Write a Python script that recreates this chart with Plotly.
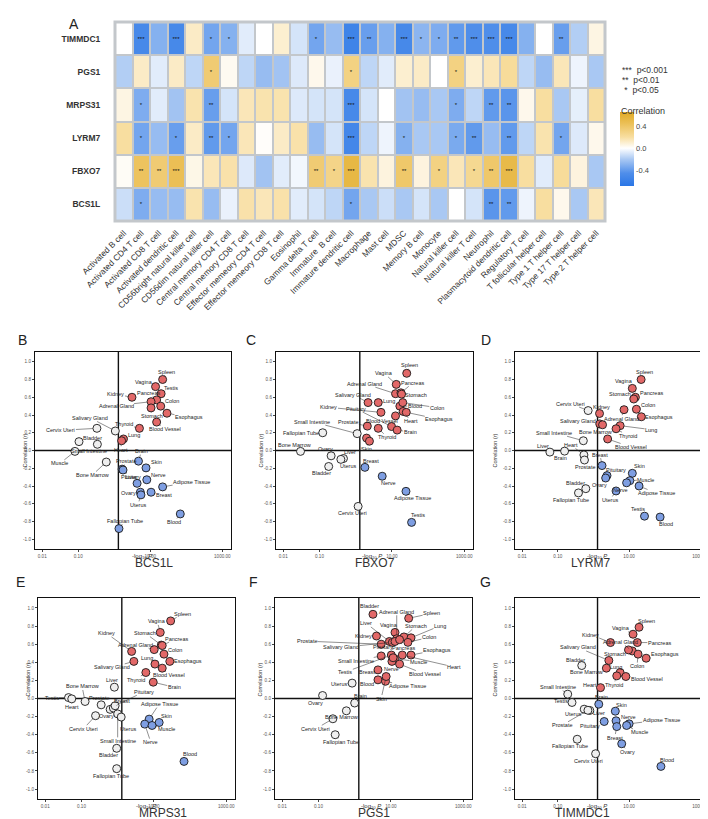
import math

import plotly.graph_objects as go

W, H = 708, 819
FONT = "Arial, Liberation Sans, sans-serif"

# ---------------- heatmap data (panel A) ----------------
CELL_TYPES = [
    "Activated B cell", "Activated CD4 T cell", "Activated CD8 T cell", "Activated dendritic cell",
    "CD56bright natural killer cell", "CD56dim natural killer cell", "Central memory CD4 T cell",
    "Central memory CD8 T cell", "Effector memeory CD4 T cell", "Effector memeory CD8 T cell",
    "Eosinophil", "Gamma delta T cell", "Immature  B cell", "Immature dendritic cell", "Macrophage",
    "Mast cell", "MDSC", "Memory B cell", "Monocyte", "Natural killer cell", "Natural killer T cell",
    "Neutrophil", "Plasmacytoid dendritic cell", "Regulatory T cell", "T follicular helper cell",
    "Type 1 T helper cell", "Type 17 T helper cell", "Type 2 T helper cell",
]
GENES = ["TIMMDC1", "PGS1", "MRPS31", "LYRM7", "FBXO7", "BCS1L"]

TIMMDC1_CORR = [0.00, -0.50, -0.30, -0.50, 0.12, -0.35, -0.30, -0.07, 0.00, 0.10, -0.10, -0.35, -0.25, -0.55,
                -0.38, -0.30, -0.50, -0.28, -0.32, -0.40, -0.45, -0.45, -0.50, -0.30, 0.00, -0.38, -0.18, 0.06]
PGS1_CORR = [-0.18, 0.12, -0.07, 0.12, -0.15, 0.35, 0.03, -0.15, -0.25, -0.22, -0.08, 0.04, -0.05, 0.30,
             -0.15, -0.07, 0.10, 0.12, 0.00, 0.30, 0.10, 0.15, 0.22, -0.15, -0.25, 0.15, -0.04, -0.20]
MRPS31_CORR = [0.06, -0.32, -0.07, -0.22, 0.17, -0.38, -0.10, 0.15, 0.17, 0.17, -0.08, -0.10, -0.10, -0.50,
               -0.10, 0.00, -0.22, -0.25, -0.20, -0.32, -0.15, -0.40, -0.42, 0.04, 0.20, -0.20, -0.06, 0.20]
LYRM7_CORR = [0.20, -0.35, -0.25, -0.38, 0.12, -0.40, -0.35, 0.15, 0.01, 0.12, 0.18, -0.25, -0.10, -0.52,
              -0.15, -0.04, -0.30, -0.20, -0.20, -0.33, -0.40, -0.25, -0.40, -0.15, 0.17, -0.35, -0.08, 0.04]
FBXO7_CORR = [0.02, 0.42, 0.35, 0.45, 0.05, 0.15, 0.18, -0.08, -0.22, -0.07, -0.03, 0.35, 0.28, 0.52,
              0.17, 0.07, 0.38, 0.07, 0.30, 0.15, 0.25, 0.38, 0.50, 0.20, -0.07, 0.22, 0.07, -0.20]
BCS1L_CORR = [-0.12, -0.32, -0.25, -0.25, 0.17, -0.25, -0.05, 0.18, 0.15, 0.18, -0.07, -0.10, -0.15, -0.35,
              -0.20, -0.12, -0.20, -0.10, -0.20, 0.00, -0.10, -0.42, -0.40, -0.04, 0.20, 0.04, -0.20, 0.15]

TIMMDC1_SIG = ["", "***", "", "***", "", "*", "*", "", "", "", "", "*", "", "***",
               "**", "", "***", "*", "*", "**", "***", "***", "***", "", "", "**", "", ""]
PGS1_SIG = ["", "", "", "", "", "*", "", "", "", "", "", "", "", "*",
            "", "", "", "", "", "*", "", "", "", "", "", "", "", ""]
MRPS31_SIG = ["", "*", "", "", "", "**", "", "", "", "", "", "", "", "***",
              "", "", "", "", "", "*", "", "**", "**", "", "", "", "", ""]
LYRM7_SIG = ["", "*", "", "*", "", "**", "*", "", "", "", "", "", "", "***",
             "", "", "*", "", "", "*", "**", "", "**", "", "", "*", "", ""]
FBXO7_SIG = ["", "**", "**", "***", "", "", "", "", "", "", "", "**", "*", "***",
             "", "", "**", "", "*", "", "*", "**", "***", "", "", "", "", ""]
BCS1L_SIG = ["", "*", "", "", "", "", "", "", "", "", "", "", "", "*",
             "", "", "", "", "", "", "", "**", "**", "", "", "", "", ""]

# ---------------- tissue scatter data (panels B-G) ----------------
BCS1L_TISSUE = ["Spleen", "Vagina", "Testis", "Kidney", "Pancreas", "Adrenal Gland", "Colon", "Stomach",
                "Esophagus", "Blood Vessel", "Thyroid", "Lung", "Heart", "Salivary Gland", "Cervix Uteri",
                "Bladder", "Small Intestine", "Muscle", "Bone Marrow", "Prostate", "Pituitary", "Brain",
                "Skin", "Nerve", "Liver", "Adipose Tissue", "Ovary", "Breast", "Uterus", "Blood",
                "Fallopian Tube"]
BCS1L_LOGP = [22, 14, 20, 3.1, 15, 10.5, 19.5, 10.5, 29, 15, 5.0, 1.8, 1.6, 1.07, 0.33, 0.105, 0.34, 0.081,
              0.60, 1.65, 1.75, 4.7, 7.6, 8.0, 4.3, 22, 5.3, 10.5, 5.5, 68, 1.35]
BCS1L_R = [0.80, 0.72, 0.64, 0.60, 0.57, 0.55, 0.50, 0.48, 0.42, 0.32, 0.25, 0.13, 0.11, 0.22, 0.25, 0.10,
           0.07, -0.01, -0.13, -0.21, -0.22, -0.12, -0.196, -0.33, -0.37, -0.41, -0.47, -0.47, -0.50,
           -0.715, -0.88]

FBXO7_TISSUE = ["Spleen", "Vagina", "Adrenal Gland", "Pancreas", "Stomach", "Salivary Gland", "Lung",
                "Kidney", "Pituitary", "Blood", "Colon", "Heart", "Esophagus", "Blood Vessel", "Prostate",
                "Thyroid", "Brain", "Muscle", "Skin", "Small Intestine", "Fallopian Tube", "Bone Marrow",
                "Ovary", "Liver", "Uterus", "Bladder", "Cervix Uteri", "Breast", "Nerve", "Adipose Tissue",
                "Testis"]
FBXO7_LOGP = [25.7, 13.2, 12.6, 17.8, 18.5, 2.2, 4.2, 5.0, 9.8, 16.6, 20, 20.5, 25, 12.6, 2.1, 4.2, 14,
              2.0, 2.4, 1.1, 0.123, 0.03, 0.21, 0.46, 0.39, 0.18, 1.17, 1.8, 5.4, 24.5, 35]
FBXO7_R = [0.87, 0.745, 0.64, 0.65, 0.635, 0.54, 0.54, 0.43, 0.27, 0.50, 0.54, 0.44, 0.43, 0.39, 0.275,
           0.25, 0.23, 0.14, 0.105, 0.19, 0.20, -0.01, -0.06, -0.09, -0.10, -0.18, -0.63, -0.19, -0.29,
           -0.46, -0.81]

LYRM7_TISSUE = ["Spleen", "Vagina", "Pancreas", "Stomach", "Colon", "Kidney", "Adrenal Gland", "Esophagus",
                "Salivary Gland", "Bone Marrow", "Lung", "Thyroid", "Blood Vessel", "Cervix Uteri",
                "Small Intestine", "Liver", "Brain", "Heart", "Prostate", "Bladder", "Fallopian Tube",
                "Breast", "Pituitary", "Ovary", "Skin", "Muscle", "Nerve", "Adipose Tissue", "Uterus",
                "Testis", "Blood"]
LYRM7_LOGP = [21.7, 12.3, 15, 13.5, 16, 1.48, 7.2, 22, 1.5, 1.8, 5.6, 4.3, 2.5, 0.71, 0.52, 0.06, 0.155,
              0.54, 0.56, 0.61, 0.38, 1.74, 2.4, 2.2, 12.3, 10.5, 8.5, 19, 4.3, 27, 74]
LYRM7_R = [0.80, 0.70, 0.60, 0.58, 0.465, 0.417, 0.46, 0.38, 0.30, 0.29, 0.28, 0.245, 0.13, 0.45, 0.11,
           -0.018, -0.007, -0.05, -0.107, -0.43, -0.478, -0.17, -0.283, -0.31, -0.257, -0.34, -0.364,
           -0.40, -0.456, -0.74, -0.75]

MRPS31_TISSUE = ["Spleen", "Vagina", "Kidney", "Stomach", "Pancreas", "Adrenal Gland", "Colon", "Lung",
                 "Esophagus", "Salivary Gland", "Thyroid", "Blood Vessel", "Brain", "Liver", "Bone Marrow",
                 "Testis", "Heart", "Prostate", "Cervix Uteri", "Ovary", "Breast", "Pituitary",
                 "Small Intestine", "Uterus", "Bladder", "Fallopian Tube", "Adipose Tissue", "Skin",
                 "Nerve", "Muscle", "Blood"]
MRPS31_LOGP = [29, 15, 2.43, 16, 17, 10.2, 19, 10.7, 27.5, 2.8, 6.0, 17, 9.6, 0.81, 0.126, 0.044, 0.054,
               0.35, 0.245, 0.62, 0.76, 0.85, 1.0, 1.25, 0.94, 0.94, 7.4, 14, 5.6, 8.9, 68]
MRPS31_R = [0.857, 0.73, 0.52, 0.59, 0.585, 0.54, 0.49, 0.38, 0.41, 0.41, 0.287, 0.335, 0.18, 0.125,
            -0.033, 0.01, -0.004, -0.07, -0.19, -0.12, -0.105, -0.08, -0.17, -0.205, -0.55, -0.775,
            -0.228, -0.265, -0.283, -0.298, -0.695]

PGS1_TISSUE = ["Bladder", "Spleen", "Vagina", "Kidney", "Adrenal Gland", "Stomach", "Lung", "Liver", "Colon",
               "Prostate", "Salivary Gland", "Pituitary", "Pancreas", "Esophagus", "Small Intestine",
               "Heart", "Muscle", "Nerve", "Testis", "Thyroid", "Breast", "Blood Vessel", "Blood",
               "Adipose Tissue", "Skin", "Uterus", "Brain", "Ovary", "Bone Marrow", "Cervix Uteri",
               "Fallopian Tube"]
PGS1_LOGP = [3.2, 31, 13, 4.0, 14.5, 23, 36, 9.1, 29.5, 5.4, 11, 13, 17.4, 36, 5.4, 20.6, 12.6, 10.7, 10.3,
             11.5, 4.4, 17.4, 4.4, 7.1, 7.4, 0.85, 1.0, 0.13, 0.59, 0.25, 0.29]
PGS1_R = [0.93, 0.886, 0.73, 0.69, 0.66, 0.68, 0.67, 0.63, 0.62, 0.60, 0.62, 0.63, 0.65, 0.48, 0.47, 0.48,
          0.44, 0.41, 0.48, 0.45, 0.316, 0.38, 0.206, 0.19, 0.243, 0.17, -0.05, 0.033, -0.136, -0.224,
          -0.40]

TIMMDC1_TISSUE = ["Spleen", "Vagina", "Kidney", "Pancreas", "Adrenal Gland", "Stomach", "Colon", "Esophagus",
                  "Salivary Gland", "Bone Marrow", "Lung", "Thyroid", "Blood Vessel", "Heart", "Bladder",
                  "Small Intestine", "Testis", "Uterus", "Liver", "Prostate", "Fallopian Tube",
                  "Cervix Uteri", "Brain", "Skin", "Pituitary", "Nerve", "Adipose Tissue", "Muscle",
                  "Breast", "Ovary", "Blood"]
TIMMDC1_LOGP = [19, 12.9, 3.0, 17, 12.3, 9.6, 17.8, 30, 2.7, 2.3, 5.6, 4.5, 8.1, 1.58, 0.47, 0.19, 0.25,
                0.55, 0.79, 0.7, 0.35, 1.15, 1.41, 4.1, 2.0, 4.3, 10, 8.5, 4.5, 6.2, 78]
TIMMDC1_R = [0.787, 0.71, 0.618, 0.618, 0.525, 0.537, 0.49, 0.445, 0.42, 0.335, 0.287, 0.25, 0.243, 0.12,
             0.364, 0.048, -0.044, -0.118, -0.132, -0.13, -0.45, -0.61, -0.063, -0.14, -0.254, -0.246,
             -0.28, -0.298, -0.31, -0.50, -0.75]

P_CUTOFF = 0.05
X_TICKS = [0.01, 0.1, 10, 1000]
X_TICK_TEXT = ["0.01", "0.10", "10.00", "1000.00"]
Y_TICKS = [1.0, 0.8, 0.6, 0.4, 0.2, 0.0, -0.2, -0.4, -0.6, -0.8, -1.0]

# ---------------- label placement (pixel offsets of the repelled labels) ----------------
BCS1L_LABEL_POS = [(4, -8), (-12, -5), (10, -6), (-16, -3), (-8, -7), (-35, 4), (11, -5), (1, 8), (22, 4),
                   (8, 7), (-15, -4), (11, -4), (-1, 9), (-25, -13), (-36, 2), (13, -4), (-8, 7), (-15, 12),
                   (-14, 13), (4, -8), (8, 7), (3, -10), (10, -6), (12, -5), (-6, -6), (29, -5), (-12, 1),
                   (13, 3), (-3, 10), (-6, 8), (6, -8)]
FBXO7_LABEL_POS = [(3, -8), (-12, -11), (-31, -10), (12, -10), (14, 1), (-15, -8), (11, -2), (-52, -5),
                   (-36, -18), (15, 0), (34, 5), (8, 10), (33, 7), (-14, 5), (-19, -4), (9, 9), (13, 2), None,
                   (-3, 8), (-45, -12), (-22, 0), (-6, -6), (-6, -7), (7, -6), (7, 7), (-7, 7), (-6, 7),
                   (6, -6), (6, 7), (7, 7), (6, -7)]
LYRM7_LABEL_POS = [(3, -8), (-8, -7), (16, -4), (-14, -5), (12, -4), (2, -7), (-3, 9), (18, 0), (-22, -3),
                   (-7, 7), (31, 4), (12, 7), (23, 8), (-18, -7), (-29, -8), (-7, -6), (-4, 7), (-13, -10),
                   (1, 7), (-10, -6), (-7, 7), (-2, -11), (9, -6), (-6, 7), (7, -7), (16, -1), (-6, 7),
                   (17, 7), (-6, 9), (-7, -7), (6, 7)]
MRPS31_LABEL_POS = [(12, -7), (-3, -11), (-25, -18), (-16, -12), (14, -7), (-19, -5), (11, -4), (-8, -6),
                    (18, 0), (-22, 6), (-10, 7), (7, 7), (21, 5), (-2, -7), (-3, -15), (-17, 0), (0, 8),
                    (-2, -7), (-12, 13), (-4, 7), (9, -7), (29, -14), (0, 27), (7, 12), (-8, 7), (-6, 7),
                    (10, -15), (7, -6), (6, 18), (14, 4), (6, -7)]
PGS1_LABEL_POS = [(-3, -8), (23, -5), (-6, -7), (-13, 0), (0, -27), (12, -11), (29, -12), (-23, -18),
                  (21, -5), (-74, -3), (-51, 5), (-12, 6), (4, 8), (26, -5), (-25, 5), (52, 12), (24, 3),
                  (0, 8), (-46, 17), None, (-11, 2), (25, 10), (-11, 4), (22, 5), (-5, 22), (-13, 1),
                  (6, -7), (-7, 7), (-5, 6), (-17, 10), (6, 7)]
TIMMDC1_LABEL_POS = [(7, -6), (-12, -6), (-20, -8), (22, 0), (-12, -9), (-13, 4), (-1, 12), (19, -4),
                     (-31, -13), (-20, 4), (-4, -6), (-3, 9), (21, 2), (-11, -3), (-6, -6), (-10, -7),
                     (-11, -1), (-11, 5), (9, 3), (-26, 15), (-7, 7), (-7, 7), (3, -7), (6, -6), (-14, 4),
                     (12, -4), (32, -4), (13, 7), (-2, 11), (6, 8), (6, -6)]

# panel boxes in pixels: (left, top, right, bottom)
PANELS = [
    ("BCS1L", "B", BCS1L_TISSUE, BCS1L_LOGP, BCS1L_R, BCS1L_LABEL_POS, (27, 344, 223, 541), (8, 332)),
    ("FBXO7", "C", FBXO7_TISSUE, FBXO7_LOGP, FBXO7_R, FBXO7_LABEL_POS, (268, 344, 465, 541), (243, 332)),
    ("LYRM7", "D", LYRM7_TISSUE, LYRM7_LOGP, LYRM7_R, LYRM7_LABEL_POS, (507, 344, 701, 541), (485, 332)),
    ("MRPS31", "E", MRPS31_TISSUE, MRPS31_LOGP, MRPS31_R, MRPS31_LABEL_POS, (30, 590, 227, 791), (6, 584)),
    ("PGS1", "F", PGS1_TISSUE, PGS1_LOGP, PGS1_R, PGS1_LABEL_POS, (267, 590, 464, 791), (245, 584)),
    ("TIMMDC1", "G", TIMMDC1_TISSUE, TIMMDC1_LOGP, TIMMDC1_R, TIMMDC1_LABEL_POS, (507, 590, 701, 791),
     (485, 584)),
]

RED, BLUE, GREY = "#E26868", "#7E9EE2", "#EFEFEF"
ZMIN, ZMAX = -0.68, 0.65


def px_x(v):
    return v / W


def px_y(v):
    return 1 - v / H


def zpos(z):
    return (z - ZMIN) / (ZMAX - ZMIN)


fig = go.Figure()
annotations = []
shapes = []

# ---------------- panel A: heatmap ----------------
z_rows = [TIMMDC1_CORR, PGS1_CORR, MRPS31_CORR, LYRM7_CORR, FBXO7_CORR, BCS1L_CORR]
sig_rows = [TIMMDC1_SIG, PGS1_SIG, MRPS31_SIG, LYRM7_SIG, FBXO7_SIG, BCS1L_SIG]
colorscale = [
    [0.0, "#2A76E6"],
    [zpos(-0.45), "#4F8EEA"],
    [zpos(-0.2), "#A9C8F3"],
    [zpos(0.0), "#FFFFFF"],
    [zpos(0.2), "#F8DEA0"],
    [zpos(0.45), "#EBBF55"],
    [1.0, "#E0AA25"],
]
fig.add_heatmap(
    x=CELL_TYPES, y=GENES, z=z_rows, text=sig_rows, texttemplate="%{text}",
    textfont=dict(size=6, color="#111", family=FONT),
    colorscale=colorscale, zmin=ZMIN, zmax=ZMAX, xgap=2, ygap=2, hoverinfo="skip",
    colorbar=dict(
        x=px_x(612), xanchor="left", y=px_y(141), yanchor="middle", len=74 / H, thickness=14,
        outlinewidth=0, tickvals=[-0.4, 0.0, 0.4], ticktext=["-0.4", "0.0", "0.4"], ticks="",
        tickfont=dict(size=7.5, color="#444", family=FONT), xpad=0, ypad=0,
    ),
    xaxis="x", yaxis="y",
)
layout_axes = dict(
    xaxis=dict(domain=[px_x(107), px_x(597)], tickangle=-45, tickfont=dict(size=8.5, color="#333", family=FONT),
               ticks="outside", ticklen=3, tickcolor="rgba(0,0,0,0)", showgrid=False, zeroline=False,
               anchor="y", automargin=False),
    yaxis=dict(domain=[px_y(213), px_y(14)], autorange="reversed",
               tickfont=dict(size=8.5, color="#333", family=FONT, weight="bold"),
               ticks="outside", ticklen=12, tickcolor="rgba(0,0,0,0)", showgrid=False, zeroline=False,
               anchor="x", automargin=False),
)
shapes.append(dict(type="rect", xref="x domain", yref="y domain", x0=0, x1=1, y0=0, y1=1,
                   fillcolor="#C3C7CB", line=dict(width=0), layer="below"))
shapes.append(dict(type="rect", xref="x domain", yref="y domain", x0=0, x1=1, y0=0, y1=1,
                   fillcolor="rgba(0,0,0,0)", line=dict(width=3, color="#C3C7CB"), layer="above"))

annotations.append(dict(text="A", x=px_x(59), y=px_y(6), xref="paper", yref="paper", showarrow=False,
                        font=dict(size=14, color="#222", family=FONT)))
legend_lines = [("***  p<0.001", 55), ("**  p<0.01", 65), (" *  p<0.05", 75)]
for txt, yy in legend_lines:
    annotations.append(dict(text=txt, x=px_x(612), y=px_y(yy), xref="paper", yref="paper", xanchor="left",
                            showarrow=False, font=dict(size=8.5, color="#333", family=FONT)))
annotations.append(dict(text="Correlation", x=px_x(611), y=px_y(96), xref="paper", yref="paper",
                        xanchor="left", showarrow=False, font=dict(size=9, color="#333", family=FONT)))

# ---------------- panels B-G: tissue scatter ----------------
cut = -math.log10(P_CUTOFF)
for i, (gene, letter, tissues, logp, corr, label_pos, box, letter_xy) in enumerate(PANELS, start=2):
    xa, ya = f"x{i}", f"y{i}"
    left, top, right, bottom = box
    colors = []
    for xv, rv in zip(logp, corr):
        if xv <= cut:
            colors.append(GREY)
        else:
            colors.append(RED if rv > 0 else BLUE)
    fig.add_scatter(
        x=logp, y=corr, mode="markers", xaxis=xa, yaxis=ya, hovertext=tissues, hoverinfo="text",
        marker=dict(size=8, color=colors, line=dict(width=0.9, color="#1A1A1A")),
    )
    layout_axes[f"xaxis{i}"] = dict(
        domain=[px_x(left), px_x(right)], anchor=ya, type="log", range=[-2.2, 3.24],
        tickvals=X_TICKS, ticktext=X_TICK_TEXT, tickfont=dict(size=4.6, color="#555", family=FONT),
        ticks="outside", ticklen=2, tickwidth=0.6, showline=True, mirror=True, linecolor="#111",
        linewidth=1.2, showgrid=False, zeroline=False, automargin=False,
    )
    layout_axes[f"yaxis{i}"] = dict(
        domain=[px_y(bottom), px_y(top)], anchor=xa, range=[-1.11, 1.11],
        tickvals=Y_TICKS, ticktext=[f"{v:.1f}" for v in Y_TICKS],
        tickfont=dict(size=4.6, color="#555", family=FONT), ticks="outside", ticklen=2, tickwidth=0.6,
        showline=True, mirror=True, linecolor="#111", linewidth=1.2, showgrid=False, zeroline=False,
        automargin=False,
    )
    shapes.append(dict(type="line", xref=f"{xa} domain", yref=ya, x0=0, x1=1, y0=0, y1=0,
                       line=dict(color="#111", width=1.4), layer="below"))
    shapes.append(dict(type="line", xref=xa, yref=f"{ya} domain", x0=cut, x1=cut,
                       y0=0, y1=1, line=dict(color="#111", width=1.4), layer="below"))
    for name, xv, rv, pos in zip(tissues, logp, corr, label_pos):
        if pos is None:
            continue
        annotations.append(dict(
            text=name, x=math.log10(xv), y=rv, xref=xa, yref=ya, ax=pos[0], ay=pos[1],
            showarrow=True, arrowhead=0, arrowwidth=0.5, arrowcolor="#222", standoff=4,
            font=dict(size=5.5, color="#222", family=FONT), borderpad=0,
        ))
    # axis titles
    annotations.append(dict(text="-log<sub>10</sub> <i>P</i>", x=px_x((left + right) / 2 - 3),
                            y=px_y(bottom + 12.5), xref="paper", yref="paper", showarrow=False,
                            font=dict(size=6, color="#333", family=FONT)))
    annotations.append(dict(text="Correlation (<i>r</i>)", x=px_x(left - 16), y=px_y((top + bottom) / 2),
                            xref="paper", yref="paper", showarrow=False, textangle=-90,
                            font=dict(size=5.5, color="#333", family=FONT)))
    annotations.append(dict(text=letter, x=px_x(letter_xy[0]), y=px_y(letter_xy[1]), xref="paper",
                            yref="paper", showarrow=False, font=dict(size=14, color="#222", family=FONT)))
    annotations.append(dict(text=gene, x=px_x((left + right) / 2), y=px_y(bottom + 23),
                            xref="paper", yref="paper", showarrow=False,
                            font=dict(size=12, color="#333", family=FONT)))

fig.update_layout(
    width=W, height=H, margin=dict(l=0, r=0, t=0, b=0), paper_bgcolor="white",
    plot_bgcolor="rgba(0,0,0,0)", showlegend=False, font=dict(family=FONT),
    annotations=annotations, shapes=shapes, **layout_axes,
)

fig.write_html("out.html")
